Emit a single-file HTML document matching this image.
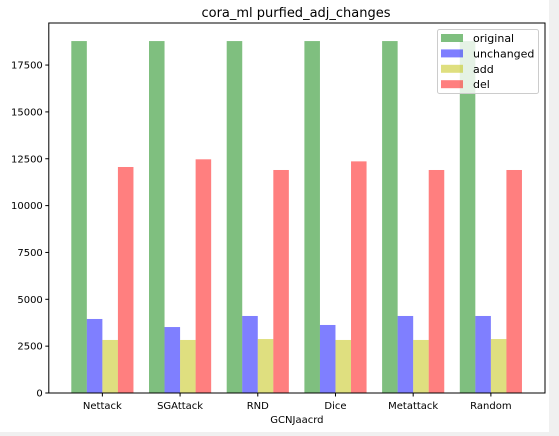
<!DOCTYPE html>
<html><head><meta charset="utf-8"><style>
body{margin:0;background:#f0f0f0;}
svg{display:block;font-family:"DejaVu Sans","Liberation Sans",sans-serif;}
</style></head><body>
<svg id="chart" width="559" height="436">
<rect x="0" y="0" width="549" height="432" fill="#fff"/>
<text x="296" y="17" font-size="13" text-anchor="middle">cora_ml purfied_adj_changes</text>
<g id="bars"></g>
<g id="axes"></g>
</svg>
<script>
const categories=["Nettack","SGAttack","RND","Dice","Metattack","Random"];
const seriesNames=["original","unchanged","add","del"];
const originalVals=[18780,18780,18780,18780,18780,18780];
const unchangedVals=[3950,3520,4110,3630,4110,4110];
const addVals=[2830,2830,2880,2830,2830,2880];
const delVals=[12060,12470,11900,12360,11900,11900];
const yTicks=[0,2500,5000,7500,10000,12500,15000,17500];
const colors=["rgba(0,128,0,0.5)","rgba(0,0,255,0.5)","rgba(191,191,0,0.5)","rgba(255,0,0,0.5)"];
const NS="http://www.w3.org/2000/svg";
const L=48.8,R=545,T=23,B=393;
const yScale=v=>B-v*(46.85/2500);
const unit=77.7;
const xCenter=i=>L+22.5+0.4*unit+i*unit;
const bw=unit*0.2;
const allSeries=[originalVals,unchangedVals,addVals,delVals];
const bars=document.getElementById('bars');
function mk(tag,attrs,parent){const e=document.createElementNS(NS,tag);for(const k in attrs)e.setAttribute(k,attrs[k]);parent.appendChild(e);return e;}
allSeries.forEach((s,si)=>{s.forEach((v,i)=>{
 const x=xCenter(i)-2*bw+si*bw;
 const r=mk('rect',{x:x,y:yScale(v),width:bw,height:B-yScale(v),fill:colors[si]},bars);
 
 
});});
const ax=document.getElementById('axes');
const frame=mk('rect',{x:L,y:T,width:R-L,height:B-T,fill:'none',stroke:'#000','stroke-width':1},ax);


yTicks.forEach(t=>{
 const y=yScale(t);
 const tk=mk('line',{x1:L-3.5,x2:L,y1:y,y2:y,stroke:'#000'},ax);
 
 
 const tx=mk('text',{x:L-6,y:y+3.5,'font-size':10,'text-anchor':'end'},ax);
 tx.textContent=t;
 
 
});
categories.forEach((c,i)=>{
 const x=xCenter(i);
 const tk=mk('line',{x1:x,x2:x,y1:B,y2:B+3.5,stroke:'#000'},ax);
 
 
 const tx=mk('text',{x:x,y:B+16,'font-size':10,'text-anchor':'middle'},ax);
 tx.textContent=c;
 
 
});
const xl=mk('text',{x:(L+R)/2,y:B+30,'font-size':10,'text-anchor':'middle'},ax);
xl.textContent='GCNJaacrd';


const lg=mk('g',{},ax);


mk('rect',{x:437.5,y:29.5,width:101,height:64,rx:2,fill:'rgba(255,255,255,0.8)',stroke:'#ccc'},lg);
seriesNames.forEach((n,i)=>{
 const y=38+i*15.4;
 const p=mk('rect',{x:441,y:y-4,width:22,height:8,fill:colors[i]},lg);
 
 
 const t=mk('text',{x:473,y:y+4,'font-size':11},lg);
 t.textContent=n;
 
 
});
</script>
</body></html>
